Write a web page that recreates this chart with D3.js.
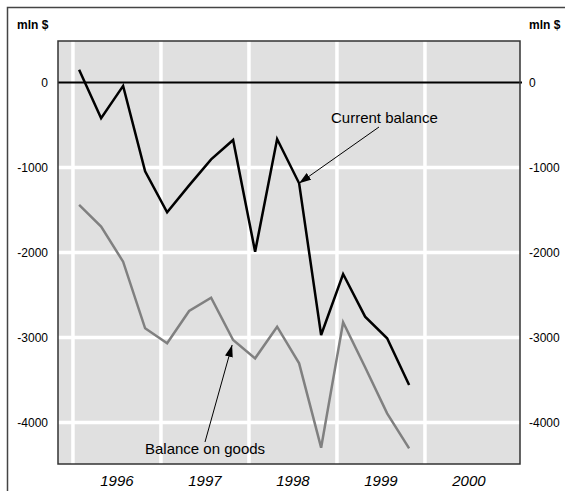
<!DOCTYPE html>
<html>
<head>
<meta charset="utf-8">
<script src="https://cdn.jsdelivr.net/npm/d3@7"></script>
<style>
  body { margin: 0; background: #fff; }
  svg { display: block; font-family: "Liberation Sans", Arial, sans-serif; }
</style>
</head>
<body>
<div id="chart"></div>
<script>
// quarterly data, mln $
var quarters = ["1996Q1","1996Q2","1996Q3","1996Q4","1997Q1","1997Q2","1997Q3","1997Q4",
                "1998Q1","1998Q2","1998Q3","1998Q4","1999Q1","1999Q2","1999Q3","1999Q4"];
var currentBalance = [150, -420, -40, -1045, -1527, -1210, -905, -676,
                      -1990, -665, -1186, -2971, -2253, -2755, -3009, -3559];
var goodsBalance = [-1441, -1696, -2108, -2892, -3068, -2688, -2532, -3029,
                    -3245, -2873, -3304, -4296, -2821, -3350, -3892, -4304];
var years = [1996, 1997, 1998, 1999, 2000];
var yTicks = [0, -1000, -2000, -3000, -4000];

var W = 565, H = 491;
var plot = {left: 58, top: 41, right: 520, bottom: 464};

var svg = d3.select("#chart").append("svg")
    .attr("width", W)
    .attr("height", H);

// outer frame (only top/left visible)
svg.append("rect")
    .attr("x", 7.5).attr("y", 7.5)
    .attr("width", 700).attr("height", 700)
    .attr("fill", "none")
    .attr("stroke", "#444")
    .attr("stroke-width", 1.5);

// time value for a quarter label
function qTime(s) {
  var yr = +s.slice(0, 4), q = +s.slice(5);
  return yr + (q - 1) / 4 + 0.07;
}

var x = d3.scaleLinear()
    .domain([1995.83, 2001.08])
    .range([plot.left, plot.right]);

var y = d3.scaleLinear()
    .domain([-4488, 488])
    .range([plot.bottom, plot.top]);

// background
svg.append("rect")
    .attr("x", plot.left).attr("y", plot.top)
    .attr("width", plot.right - plot.left)
    .attr("height", plot.bottom - plot.top)
    .attr("fill", "#e0e0e0");

// white grid
svg.selectAll(".vgrid").data(years).enter().append("line")
    .attr("x1", function(d) { return x(d); })
    .attr("x2", function(d) { return x(d); })
    .attr("y1", plot.top).attr("y2", plot.bottom)
    .attr("stroke", "#fff").attr("stroke-width", 3.5);

svg.selectAll(".hgrid").data(yTicks.filter(function(d) { return d != 0; })).enter().append("line")
    .attr("x1", plot.left).attr("x2", plot.right)
    .attr("y1", function(d) { return y(d); })
    .attr("y2", function(d) { return y(d); })
    .attr("stroke", "#fff").attr("stroke-width", 3.5);

// zero line
svg.append("line")
    .attr("x1", plot.left).attr("x2", plot.right + 2)
    .attr("y1", y(0)).attr("y2", y(0))
    .attr("stroke", "#000").attr("stroke-width", 2);

// plot border
svg.append("rect")
    .attr("x", plot.left).attr("y", plot.top)
    .attr("width", plot.right - plot.left)
    .attr("height", plot.bottom - plot.top)
    .attr("fill", "none")
    .attr("stroke", "#333").attr("stroke-width", 1.5);

// y labels both sides
svg.selectAll(".ylabL").data(yTicks).enter().append("text")
    .attr("x", 48).attr("y", function(d) { return y(d); })
    .attr("dy", "0.35em")
    .attr("text-anchor", "end")
    .attr("font-size", 12)
    .text(function(d) { return d; });

svg.selectAll(".ylabR").data(yTicks).enter().append("text")
    .attr("x", 529).attr("y", function(d) { return y(d); })
    .attr("dy", "0.35em")
    .attr("text-anchor", "start")
    .attr("font-size", 12)
    .text(function(d) { return d; });

svg.append("text").attr("x", 17).attr("y", 29)
    .attr("font-size", 12).attr("font-weight", "bold").text("mln $");
svg.append("text").attr("x", 529).attr("y", 29)
    .attr("font-size", 12).attr("font-weight", "bold").text("mln $");

// year labels
svg.selectAll(".xlab").data(years).enter().append("text")
    .attr("x", function(d) { return x(d + 0.5); })
    .attr("y", 486)
    .attr("text-anchor", "middle")
    .attr("font-size", 15)
    .attr("font-style", "italic")
    .text(function(d) { return d; });

var line = d3.line()
    .x(function(d, i) { return x(qTime(quarters[i])); })
    .y(function(d) { return y(d); });

svg.append("path")
    .datum(goodsBalance)
    .attr("fill", "none")
    .attr("stroke", "#808080")
    .attr("stroke-width", 2.5)
    .attr("stroke-linejoin", "miter")
    .attr("d", line);

svg.append("path")
    .datum(currentBalance)
    .attr("fill", "none")
    .attr("stroke", "#000")
    .attr("stroke-width", 2.5)
    .attr("d", line);

// arrow marker
svg.append("defs").append("marker")
    .attr("id", "arrow")
    .attr("viewBox", "0 0 12 8")
    .attr("refX", 12).attr("refY", 4)
    .attr("markerWidth", 12).attr("markerHeight", 8)
    .attr("markerUnits", "userSpaceOnUse")
    .attr("orient", "auto")
  .append("path")
    .attr("d", "M0,0 L12,4 L0,8 Z")
    .attr("fill", "#000");

// annotations
var cbX = x(qTime(quarters[10])), cbY = y(currentBalance[10]);
svg.append("line")
    .attr("x1", 379).attr("y1", 127)
    .attr("x2", cbX).attr("y2", cbY)
    .attr("stroke", "#000").attr("stroke-width", 1)
    .attr("marker-end", "url(#arrow)");
svg.append("text").attr("x", 331).attr("y", 123)
    .attr("font-size", 15).text("Current balance");

var gbX = x(qTime(quarters[7])) - 1, gbY = y(goodsBalance[7]) + 5;
svg.append("line")
    .attr("x1", 205).attr("y1", 442)
    .attr("x2", gbX).attr("y2", gbY)
    .attr("stroke", "#000").attr("stroke-width", 1)
    .attr("marker-end", "url(#arrow)");
svg.append("text").attr("x", 145).attr("y", 454)
    .attr("font-size", 15).text("Balance on goods");
</script>
</body>
</html>
